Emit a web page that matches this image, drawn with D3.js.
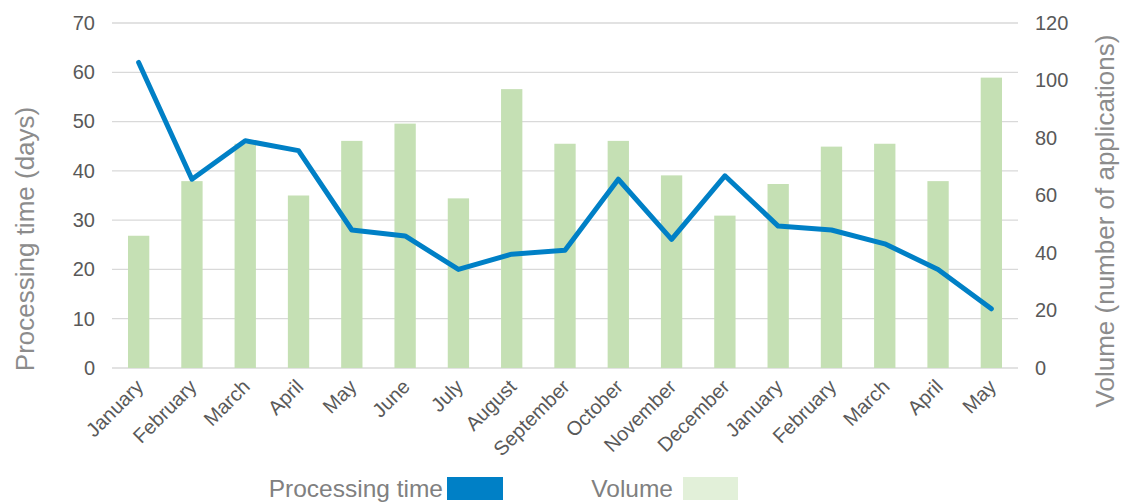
<!DOCTYPE html>
<html><head><meta charset="utf-8">
<script src="https://cdn.jsdelivr.net/npm/d3@7"></script>
<style>body{margin:0;background:#fff}svg{display:block;font-family:"Liberation Sans",Arial,sans-serif}</style>
</head><body><svg id="c" width="1123" height="504"></svg>
<script>
const months = ["January","February","March","April","May","June","July","August","September","October","November","December","January","February","March","April","May"];
const processingTime = [62,38.3,46.1,44.1,28,26.8,20,23.1,23.9,38.3,26.1,39,28.8,28,25.2,20,12];
const volume = [46,65,78,60,79,85,59,97,78,79,67,53,64,77,78,65,101];
const leftTicks = [0,10,20,30,40,50,60,70];
const rightTicks = [0,20,40,60,80,100,120];

const svg = d3.select("#c");
const L = 112, R = 1018, T = 23, B = 368;
const idx = months.map((d,i)=>i);
const x = d3.scaleBand().domain(idx).range([L,R]).paddingInner(0.6).paddingOuter(0.3);
const yL = d3.scaleLinear().domain([0,70]).range([B,T]);
const yR = d3.scaleLinear().domain([0,120]).range([B,T]);

svg.append("g").selectAll("line").data(leftTicks).join("line")
  .attr("x1",L).attr("x2",R).attr("y1",d=>yL(d)).attr("y2",d=>yL(d))
  .attr("stroke","#d9d9d9").attr("stroke-width",1.3);

svg.append("g").selectAll("rect").data(volume).join("rect")
  .attr("x",(d,i)=>x(i)).attr("width",x.bandwidth())
  .attr("y",d=>yR(d)).attr("height",d=>B-yR(d)).attr("fill","#c5e0b4");

const line = d3.line().x((d,i)=>x(i)+x.bandwidth()/2).y(d=>yL(d));
svg.append("path").datum(processingTime).attr("d",line)
  .attr("fill","none").attr("stroke","#0080c6").attr("stroke-width",5)
  .attr("stroke-linejoin","round").attr("stroke-linecap","round");

const axL = d3.axisLeft(yL).tickValues(leftTicks).tickSize(0).tickPadding(17);
const gL = svg.append("g").attr("transform",`translate(${L},0)`).call(axL);
gL.select(".domain").remove();
gL.selectAll("text").attr("font-size",20).attr("fill","#595959").attr("font-family","Liberation Sans, Arial, sans-serif");

const axR = d3.axisRight(yR).tickValues(rightTicks).tickSize(0).tickPadding(17);
const gR = svg.append("g").attr("transform",`translate(${R},0)`).call(axR);
gR.select(".domain").remove();
gR.selectAll("text").attr("font-size",20).attr("fill","#595959").attr("font-family","Liberation Sans, Arial, sans-serif");

const axX = d3.axisBottom(x).tickFormat(i=>months[i]).tickSize(0).tickPadding(0);
const gX = svg.append("g").attr("transform",`translate(0,${B})`).call(axX);
gX.select(".domain").remove();
gX.selectAll("text").attr("font-size",20).attr("fill","#595959").attr("font-family","Liberation Sans, Arial, sans-serif")
  .attr("text-anchor","end").attr("dy",0).attr("y",0)
  .attr("transform","translate(6,20) rotate(-45)");

svg.append("text").attr("transform",`translate(34,239) rotate(-90)`).attr("text-anchor","middle")
  .attr("font-size",26).attr("fill","#8c8c8c").text("Processing time (days)");
svg.append("text").attr("transform",`translate(1114,221) rotate(-90)`).attr("text-anchor","middle")
  .attr("font-size",26).attr("fill","#8c8c8c").text("Volume (number of applications)");

const lg = svg.append("g");
lg.append("text").attr("x",443).attr("y",497).attr("text-anchor","end").attr("font-size",24.5).attr("fill","#808080").text("Processing time");
lg.append("rect").attr("x",447).attr("y",477).attr("width",56).attr("height",23).attr("fill","#0080c6");
lg.append("text").attr("x",673).attr("y",497).attr("text-anchor","end").attr("font-size",24.5).attr("fill","#808080").text("Volume");
lg.append("rect").attr("x",683).attr("y",477).attr("width",55).attr("height",23).attr("fill","#e2f0d9");
</script></body></html>
